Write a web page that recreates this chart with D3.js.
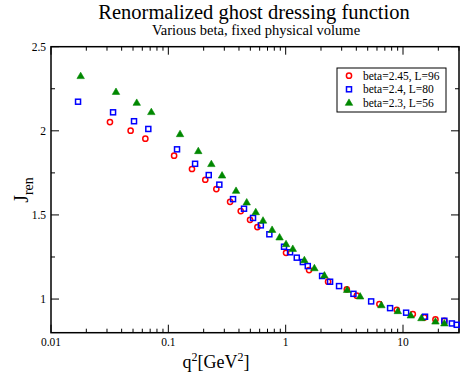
<!DOCTYPE html>
<html>
<head>
<meta charset="utf-8">
<script src="https://cdn.jsdelivr.net/npm/d3@7"></script>
<style>
  body { margin: 0; background: #fff; }
  svg { font-family: "Liberation Serif", "DejaVu Serif", serif; }
</style>
</head>
<body>
<svg id="chart" width="460" height="378"></svg>
<script>
// the data: q^2 in GeV^2, J_ren
const q2_245 = [0.0318, 0.0477, 0.0637, 0.112, 0.159, 0.2065, 0.2565, 0.336, 0.414, 0.497, 0.574,
  1.007, 1.583, 2.299, 3.319, 4.04, 6.29, 8.85, 12.12, 15.2, 18.9, 22.5];
const j_245 = [2.052, 2.001, 1.953, 1.852, 1.773, 1.709, 1.654, 1.578, 1.523, 1.471, 1.428,
  1.275, 1.172, 1.103, 1.058, 1.020, 0.970, 0.936, 0.911, 0.891, 0.879, 0.871];

const q2_24 = [0.0170, 0.0338, 0.0510, 0.0675, 0.1186, 0.169, 0.221, 0.272, 0.356, 0.4415, 0.527,
  0.614, 0.726, 0.968, 1.09, 1.243, 1.40, 1.543, 2.043, 2.39, 2.85, 3.78, 5.35, 7.76, 10.63,
  15.4, 22.5, 26.1, 28.7];
const j_24 = [2.173, 2.110, 2.057, 2.011, 1.890, 1.804, 1.737, 1.680, 1.594, 1.537, 1.482,
  1.438, 1.385, 1.311, 1.278, 1.246, 1.220, 1.196, 1.137, 1.103, 1.077, 1.031, 0.986, 0.946, 0.919,
  0.895, 0.871, 0.855, 0.847];

const q2_23 = [0.0179, 0.0358, 0.0538, 0.0716, 0.1258, 0.180, 0.2326, 0.287, 0.3776, 0.4655, 0.556,
  0.641, 0.766, 0.887, 1.007, 1.15, 1.443, 1.757, 2.138, 3.34, 4.31, 6.54, 9.03, 11.65, 14.35,
  18.9, 22.5];
const j_23 = [2.326, 2.232, 2.167, 2.112, 1.981, 1.880, 1.803, 1.735, 1.644, 1.575, 1.517,
  1.467, 1.412, 1.367, 1.327, 1.299, 1.232, 1.184, 1.141, 1.055, 1.016, 0.964, 0.929, 0.903, 0.887,
  0.867, 0.856];

const seriesNames = ["beta=2.45, L=96", "beta=2.4, L=80", "beta=2.3, L=56"];
const xTickLabels = ["0.01", "0.1", "1", "10"];
const yTickLabels = ["1", "1.5", "2", "2.5"];

let svg = d3.select("#chart");

const m = { left: 51, right: 459, top: 46.7, bottom: 332.7 };

let x = d3.scaleLog().domain([0.01, 30]).range([m.left, m.right]);
let y = d3.scaleLinear().domain([0.8, 2.5]).range([m.bottom, m.top]);

// titles
svg.append("text").attr("x", 254).attr("y", 19).attr("text-anchor", "middle")
  .style("font-size", "20.5px").text("Renormalized ghost dressing function");
svg.append("text").attr("x", 256).attr("y", 35).attr("text-anchor", "middle")
  .style("font-size", "14.5px").text("Various beta, fixed physical volume");

// ticks
let majorX = xTickLabels.map(Number);
let minorX = [];
majorX.forEach(d => { for (let k = 2; k <= 9; k++) if (d * k <= 30) minorX.push(d * k); });
let majorY = yTickLabels.map(Number);
let minorY = [1.25, 1.75, 2.25];

let g = svg.append("g").attr("stroke", "#000").attr("stroke-width", 1);
function tickX(v, len) {
  g.append("line").attr("x1", x(v)).attr("x2", x(v)).attr("y1", m.bottom).attr("y2", m.bottom - len);
  g.append("line").attr("x1", x(v)).attr("x2", x(v)).attr("y1", m.top).attr("y2", m.top + len);
}
function tickY(v, len) {
  g.append("line").attr("x1", m.left).attr("x2", m.left + len).attr("y1", y(v)).attr("y2", y(v));
  g.append("line").attr("x1", m.right).attr("x2", m.right - len).attr("y1", y(v)).attr("y2", y(v));
}
majorX.forEach(d => tickX(d, 8));
minorX.forEach(d => tickX(d, 4));
majorY.forEach(d => tickY(d, 8));
minorY.forEach(d => tickY(d, 4));

svg.append("rect").attr("x", m.left).attr("y", m.top).attr("width", m.right - m.left).attr("height", m.bottom - m.top)
  .attr("fill", "none").attr("stroke", "#000").attr("stroke-width", 1.5);

// tick labels
svg.selectAll(".xl").data(xTickLabels).enter().append("text")
  .attr("x", d => x(+d)).attr("y", 346).attr("text-anchor", "middle")
  .style("font-size", "11.5px").text(d => d);
svg.selectAll(".yl").data(yTickLabels).enter().append("text")
  .attr("x", 46).attr("y", d => y(+d) + 4).attr("text-anchor", "end")
  .style("font-size", "11.5px").text(d => d);

// axis labels
let xl = svg.append("text").attr("x", 216).attr("y", 368).attr("text-anchor", "middle").style("font-size", "18px");
xl.append("tspan").text("q");
xl.append("tspan").attr("dy", -7).style("font-size", "12px").text("2");
xl.append("tspan").attr("dy", 7).text("[GeV");
xl.append("tspan").attr("dy", -7).style("font-size", "12px").text("2");
xl.append("tspan").attr("dy", 7).text("]");

let yl = svg.append("text").attr("transform", "translate(28,190) rotate(-90)")
  .attr("text-anchor", "middle").style("font-size", "20px");
yl.append("tspan").text("J");
yl.append("tspan").attr("dy", 5).style("font-size", "14px").text("ren");

// markers
const rC = 2.6, sQ = 5;
let tri = d3.symbol().type(d3.symbolTriangle).size(24);
function circles(xs, ys) {
  svg.append("g").selectAll("circle").data(xs).enter().append("circle")
    .attr("cx", d => x(d)).attr("cy", (d, i) => y(ys[i])).attr("r", rC)
    .attr("fill", "none").attr("stroke", "#ff0000").attr("stroke-width", 1.5);
}
function squares(xs, ys) {
  svg.append("g").selectAll("rect").data(xs).enter().append("rect")
    .attr("x", d => x(d) - sQ / 2).attr("y", (d, i) => y(ys[i]) - sQ / 2).attr("width", sQ).attr("height", sQ)
    .attr("fill", "none").attr("stroke", "#0000ff").attr("stroke-width", 1.5);
}
function triangles(xs, ys) {
  svg.append("g").selectAll("path").data(xs).enter().append("path")
    .attr("d", tri).attr("transform", (d, i) => `translate(${x(d)},${y(ys[i]) + 0.5})`)
    .attr("fill", "#008800").attr("stroke", "#008800").attr("stroke-width", 0.6);
}
circles(q2_245, j_245);
squares(q2_24, j_24);
triangles(q2_23, j_23);

// legend
let lg = svg.append("g");
lg.append("rect").attr("x", 337).attr("y", 68).attr("width", 109).attr("height", 44)
  .attr("fill", "#fff").attr("stroke", "#000").attr("stroke-width", 1);
let ly = [75.7, 89.3, 102.7];
lg.append("circle").attr("cx", 349).attr("cy", ly[0]).attr("r", rC)
  .attr("fill", "none").attr("stroke", "#ff0000").attr("stroke-width", 1.5);
lg.append("rect").attr("x", 349 - sQ / 2).attr("y", ly[1] - sQ / 2).attr("width", sQ).attr("height", sQ)
  .attr("fill", "none").attr("stroke", "#0000ff").attr("stroke-width", 1.5);
lg.append("path").attr("d", tri).attr("transform", `translate(349,${ly[2] + 0.5})`)
  .attr("fill", "#008800").attr("stroke", "#008800").attr("stroke-width", 0.6);
seriesNames.forEach((s, i) => {
  lg.append("text").attr("x", 363).attr("y", ly[i] + 4).style("font-size", "11.5px").text(s);
});
</script>
</body>
</html>
